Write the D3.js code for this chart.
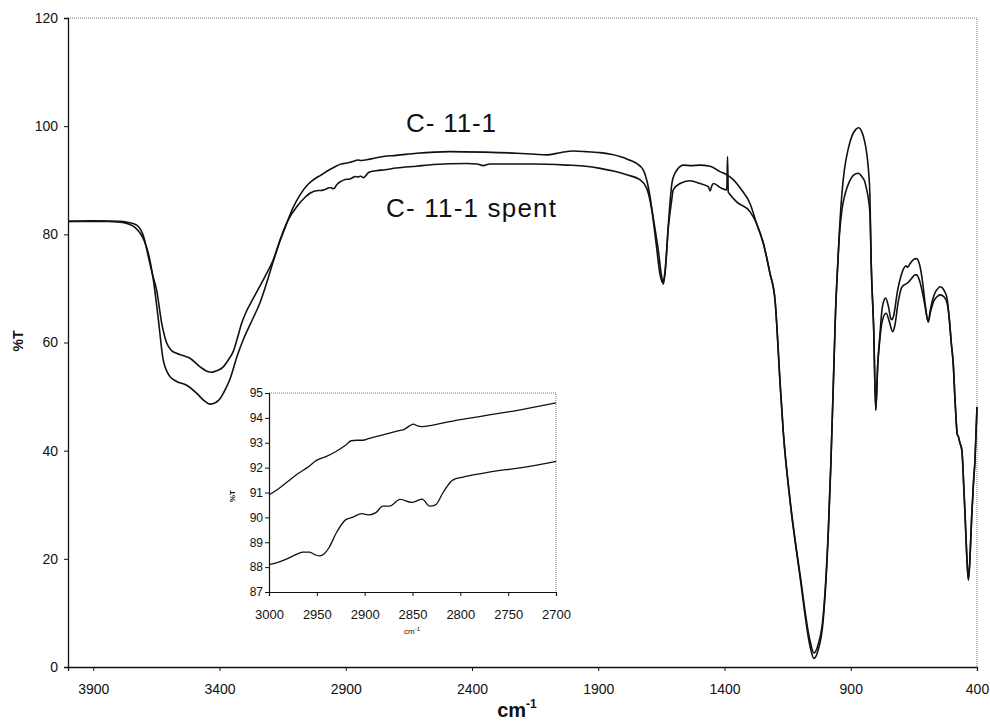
<!DOCTYPE html>
<html>
<head>
<meta charset="utf-8">
<script src="https://cdn.jsdelivr.net/npm/d3@7/dist/d3.min.js"></script>
<style>
  body { margin: 0; background: #fff; }
  text { font-family: "Liberation Sans", Arial, sans-serif; fill: #111; }
</style>
</head>
<body>
<div id="chart"></div>
<script>

/**
  *   IR spectra of C-11-1 and C-11-1 spent, with zoomed inset (3000-2700 cm-1).
  **/

// Main spectrum, C-11-1 : [wavenumber, %T]
var c111 = [[4000,82.4],[3900,82.5],[3800,82.3],[3760,81.9],[3735,81.3],[3700,79.0],[3682,76.5],[3662,71.6],
  [3642,64.2],[3623,56.8],[3596,53.7],[3570,52.8],[3530,52.1],[3490,50.6],[3460,49.2],[3438,48.6],[3415,48.9],
  [3398,49.6],[3375,51.5],[3358,53.3],[3330,57.5],[3306,60.5],[3270,64.2],[3240,67.3],[3210,71.5],[3187,75.0],
  [3160,78.8],[3134,82.0],[3110,84.8],[3081,87.3],[3050,89.2],[3015,90.5],[3000,90.9],[2970,91.8],[2950,92.3],
  [2915,93.05],[2905,93.1],[2880,93.35],[2850,93.75],[2840,93.65],[2800,93.95],[2751,94.4],[2700,94.6],
  [2619,95.0],[2487,95.3],[2355,95.2],[2223,95.0],[2150,94.8],[2104,94.7],[2050,95.1],[1999,95.4],[1950,95.3],
  [1893,95.1],[1850,94.8],[1814,94.4],[1780,93.8],[1748,93.1],[1722,91.9],[1702,88.8],[1682,83.0],[1662,77.0],
  [1650,72.5],[1642,70.8],[1634,73.5],[1622,82.0],[1608,89.5],[1596,91.3],[1563,92.8],[1530,92.7],[1500,92.8],
  [1457,92.6],[1418,91.6],[1391,91.0],[1372,90.4],[1332,88.2],[1299,85.7],[1273,82.0],[1246,78.3],[1220,72.8],
  [1200,67.9],[1180,52.5],[1167,43.2],[1141,30.9],[1101,16.7],[1061,3.8],[1046,1.6],[1030,3.0],[1009,8.7],
  [989,24.7],[979,37.0],[969,52.5],[960,66.0],[952,74.0],[945,80.5],[935,87.5],[925,92.0],[910,95.8],[895,98.2],
  [880,99.4],[869,99.7],[855,98.8],[845,97.2],[838,95.4],[830,92.0],[824,87.0],[819,74.6],[809,62.3],[801,47.5],
  [793,56.0],[785,61.1],[775,66.5],[762,68.2],[750,66.5],[742,64.5],[737,64.2],[730,65.0],[715,69.5],[700,72.5],
  [690,73.7],[682,74.2],[675,73.9],[665,74.6],[650,75.4],[639,75.5],[628,74.5],[615,71.0],[605,67.0],[593,63.8],
  [585,66.0],[570,68.8],[555,70.0],[546,70.3],[530,69.6],[518,68.0],[510,64.5],[502,60.0],[494,56.0],[487,49.4],
  [478,43.0],[474,42.6],[468,41.5],[460,40.1],[452,33.0],[447,27.8],[440,20.0],[434,16.1],[428,20.0],[421,27.8],
  [414,34.0],[408,38.3],[404,43.0],[400,48.1]];

// Main spectrum, C-11-1 spent : [wavenumber, %T]
var c111Spent = [[4000,82.4],[3900,82.4],[3800,82.4],[3760,82.2],[3728,81.7],[3700,79.5],[3682,75.9],[3665,72.5],
  [3649,69.7],[3629,63.6],[3609,59.9],[3590,58.5],[3570,58.0],[3545,57.6],[3517,57.1],[3477,55.5],[3450,54.7],
  [3431,54.5],[3410,54.8],[3385,55.5],[3365,56.8],[3345,58.4],[3328,61.0],[3312,63.6],[3295,65.6],[3275,67.4],
  [3253,69.3],[3220,72.2],[3187,75.3],[3160,79.0],[3130,82.5],[3094,85.1],[3060,86.9],[3042,87.6],[3010,88.1],[3000,88.1],
  [2982,88.3],[2966,88.6],[2957,88.6],[2950,88.45],[2944,88.55],[2937,89.1],[2919,89.8],[2902,90.15],[2888,90.2],
  [2874,90.45],[2863,90.7],[2851,90.6],[2840,90.75],[2830,90.45],[2818,91.0],[2808,91.5],[2780,91.75],[2745,91.95],
  [2700,92.25],[2620,92.6],[2553,92.9],[2421,93.1],[2380,93.0],[2355,92.7],[2330,93.0],[2289,93.0],[2157,93.0],
  [2025,92.8],[1950,92.6],[1893,92.2],[1840,91.7],[1787,91.0],[1735,90.1],[1708,88.5],[1688,84.5],[1670,78.0],
  [1655,72.5],[1644,71.0],[1636,73.0],[1622,81.5],[1610,86.0],[1603,88.2],[1576,89.4],[1537,89.9],[1497,89.4],
  [1464,88.8],[1457,88.0],[1450,89.0],[1444,89.4],[1411,88.5],[1391,88.2],[1388,94.4],[1385,87.8],[1382,87.6],
  [1352,86.0],[1299,84.2],[1273,82.0],[1246,78.3],[1220,72.8],[1200,67.9],[1180,52.8],[1167,43.5],[1141,31.2],
  [1101,17.2],[1061,4.8],[1046,2.6],[1030,4.0],[1009,9.5],[989,25.2],[979,37.5],[969,52.0],[960,66.0],[952,74.0],
  [945,79.8],[935,84.5],[922,87.5],[905,89.8],[890,90.9],[870,91.3],[855,90.6],[845,89.8],[838,88.5],[830,86.5],
  [824,83.9],[819,74.6],[809,62.3],[801,47.5],[793,56.0],[785,60.5],[775,64.0],[760,65.4],[748,64.0],[734,62.0],
  [726,63.0],[712,67.5],[700,70.0],[690,70.6],[675,71.0],[660,71.8],[645,72.5],[639,72.5],[628,71.5],[615,69.0],
  [605,66.5],[593,63.8],[585,65.5],[570,67.8],[555,68.6],[546,68.8],[530,68.4],[518,67.2],[510,64.5],[502,60.0],
  [494,56.0],[487,49.4],[478,43.0],[474,42.6],[468,41.5],[460,40.1],[452,33.0],[447,27.8],[440,20.0],[434,16.1],
  [428,20.0],[421,27.8],[414,34.0],[408,38.3],[404,43.0],[400,48.1]];

// Inset (zoom of 3000-2700), upper = C-11-1, lower = C-11-1 spent
var insetUpper = [[3000,90.9],[2990,91.15],[2980,91.45],[2970,91.75],[2960,92.0],[2950,92.3],[2940,92.45],
  [2930,92.65],[2920,92.9],[2914,93.08],[2908,93.1],[2902,93.1],[2895,93.18],[2885,93.28],[2875,93.38],
  [2865,93.48],[2858,93.55],[2853,93.68],[2849,93.75],[2845,93.68],[2840,93.65],[2830,93.7],[2820,93.78],
  [2800,93.93],[2780,94.05],[2760,94.18],[2740,94.3],[2720,94.45],[2700,94.6]];

var insetLower = [[3000,88.1],[2990,88.2],[2980,88.35],[2972,88.5],[2965,88.6],[2958,88.6],[2952,88.5],
  [2947,88.45],[2942,88.55],[2937,88.8],[2930,89.35],[2920,89.9],[2913,90.0],[2903,90.15],[2895,90.1],
  [2888,90.2],[2881,90.45],[2874,90.45],[2863,90.72],[2851,90.6],[2840,90.73],[2832,90.45],[2826,90.5],
  [2818,91.0],[2808,91.5],[2797,91.62],[2780,91.75],[2760,91.88],[2745,91.95],[2720,92.1],[2700,92.25]];

// Tick values.
var xTicks = [3900, 3400, 2900, 2400, 1900, 1400, 900, 400];
var yTicks = [0, 20, 40, 60, 80, 100, 120];
var insetXTicks = [3000, 2950, 2900, 2850, 2800, 2750, 2700];
var insetYTicks = [87, 88, 89, 90, 91, 92, 93, 94, 95];

// Labels.
var seriesLabels = ["C- 11-1", "C- 11-1 spent"];


var width = 990, height = 722;

var svg = d3.select("#chart").append("svg")
    .attr("width", width)
    .attr("height", height);

svg.append("rect")
    .attr("width", width)
    .attr("height", height)
    .attr("fill", "#fff");

// Main scales.
var x = d3.scaleLinear().domain([4000, 400]).range([68, 977]);
var y = d3.scaleLinear().domain([0, 120]).range([667, 18]);

// dotted frame on top and right.
svg.append("path")
    .attr("d", "M" + x.range()[0] + "," + y.range()[1] + "H" + x.range()[1] + "V" + y.range()[0])
    .attr("fill", "none")
    .attr("stroke", "#777")
    .attr("stroke-width", 1)
    .attr("stroke-dasharray", "1,1");

var xAxis = d3.axisBottom(x).tickValues(xTicks).tickSize(4).tickPadding(13).tickFormat(d3.format("d"));
var yAxis = d3.axisLeft(y).tickValues(yTicks).tickSize(4).tickPadding(6).tickFormat(d3.format("d"));

var gx = svg.append("g")
    .attr("transform", "translate(0," + y.range()[0] + ")")
    .call(xAxis);
var gy = svg.append("g")
    .attr("transform", "translate(" + x.range()[0] + ",0)")
    .call(yAxis);

[gx, gy].forEach(function(g){
  g.select(".domain").attr("stroke", "#111").attr("stroke-width", 1.3);
  g.selectAll(".tick line").attr("stroke", "#111");
  g.selectAll(".tick text")
    .attr("font-family", "Liberation Sans, Arial, sans-serif")
    .attr("font-size", 14)
    .attr("fill", "#111");
});

// axis titles.
var xTitle = svg.append("text")
    .attr("x", 517)
    .attr("y", 717)
    .attr("text-anchor", "middle")
    .attr("font-size", 20)
    .attr("font-weight", "bold");
xTitle.append("tspan").text("cm");
xTitle.append("tspan").attr("dy", -9).attr("font-size", 12).text("-1");

svg.append("text")
    .attr("transform", "translate(23,341) rotate(-90)")
    .attr("text-anchor", "middle")
    .attr("font-size", 14)
    .attr("font-weight", "bold")
    .text("%T");

// spectra.
var line = d3.line()
    .x(function(d){ return x(d[0]); })
    .y(function(d){ return y(d[1]); })
    .curve(d3.curveMonotoneX);

svg.selectAll(".spectrum")
  .data([c111, c111Spent])
  .enter().append("path")
    .attr("class", "spectrum")
    .attr("d", line)
    .attr("fill", "none")
    .attr("stroke", "#111")
    .attr("stroke-width", 1.6)
    .attr("stroke-linejoin", "round");

// series labels (the original text is a bit wide, so stretch the spacing).
svg.append("text")
    .attr("x", 406)
    .attr("y", 132)
    .attr("font-size", 26)
    .attr("textLength", 90)
    .attr("lengthAdjust", "spacing")
    .text(seriesLabels[0]);

svg.append("text")
    .attr("x", 386)
    .attr("y", 217)
    .attr("font-size", 26)
    .attr("textLength", 170)
    .attr("lengthAdjust", "spacing")
    .text(seriesLabels[1]);


/**
  *  Inset plot.
  **/

var ix = d3.scaleLinear().domain([3000, 2700]).range([269, 556]);
var iy = d3.scaleLinear().domain([87, 95]).range([592, 393]);

var inset = svg.append("g").attr("class", "inset");

inset.append("rect")
    .attr("x", ix.range()[0])
    .attr("y", iy.range()[1])
    .attr("width", ix.range()[1] - ix.range()[0])
    .attr("height", iy.range()[0] - iy.range()[1])
    .attr("fill", "#fff");

inset.append("path")
    .attr("d", "M" + ix.range()[0] + "," + iy.range()[1] + "H" + ix.range()[1] + "V" + iy.range()[0])
    .attr("fill", "none")
    .attr("stroke", "#777")
    .attr("stroke-width", 1)
    .attr("stroke-dasharray", "1,1");

var igx = inset.append("g")
    .attr("transform", "translate(0," + iy.range()[0] + ")")
    .call(d3.axisBottom(ix).tickValues(insetXTicks).tickSize(4).tickPadding(14).tickFormat(d3.format("d")));
var igy = inset.append("g")
    .attr("transform", "translate(" + ix.range()[0] + ",0)")
    .call(d3.axisLeft(iy).tickValues(insetYTicks).tickSize(4).tickPadding(2).tickFormat(d3.format("d")));

[igx, igy].forEach(function(g){
  g.select(".domain").attr("stroke", "#111").attr("stroke-width", 1.2);
  g.selectAll(".tick line").attr("stroke", "#111");
  g.selectAll(".tick text")
    .attr("font-family", "Liberation Sans, Arial, sans-serif")
    .attr("fill", "#111");
});
igx.selectAll(".tick text").attr("font-size", 13);
igy.selectAll(".tick text").attr("font-size", 12);

var iline = d3.line()
    .x(function(d){ return ix(d[0]); })
    .y(function(d){ return iy(d[1]); })
    .curve(d3.curveMonotoneX);

inset.selectAll(".inset-line")
  .data([insetUpper, insetLower])
  .enter().append("path")
    .attr("class", "inset-line")
    .attr("d", iline)
    .attr("fill", "none")
    .attr("stroke", "#111")
    .attr("stroke-width", 1.3);

var ixTitle = inset.append("text")
    .attr("x", 412)
    .attr("y", 634)
    .attr("text-anchor", "middle")
    .attr("font-size", 8);
ixTitle.append("tspan").text("cm");
ixTitle.append("tspan").attr("dy", -3).attr("font-size", 6).text("-1");

inset.append("text")
    .attr("transform", "translate(235,496) rotate(-90)")
    .attr("text-anchor", "middle")
    .attr("font-size", 8)
    .attr("font-weight", "bold")
    .text("%T");

</script>
</body>
</html>
